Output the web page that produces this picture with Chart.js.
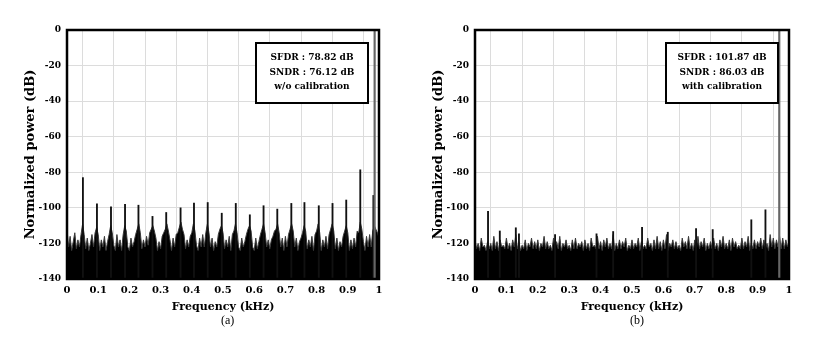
<!DOCTYPE html>
<html>
<head>
<meta charset="utf-8">
<script src="https://cdn.jsdelivr.net/npm/chart.js@4.4.1/dist/chart.umd.min.js"></script>
<style>
  body { margin: 0; background: #fff; width: 835px; height: 350px; position: relative; overflow: hidden; }
  canvas { position: absolute; top: 0; }
  .cap { position: absolute; top: 313px; font: 12px "Liberation Serif", serif; color: #000; }
</style>
</head>
<body>
<canvas id="specA" width="405" height="318" style="left:0"></canvas>
<canvas id="specB" width="427" height="318" style="left:408px"></canvas>
<div class="cap" style="left:221px">(a)</div>
<div class="cap" style="left:630px">(b)</div>
<script>
// noise floor tops, one value per 0.005 kHz bin (dB)
const noiseA = [
  -112,-122,-116,-124,-119,-114,-123,-118,-122,-115,
  -109,-115,-123,-117,-124,-120,-115,-122,-114,-111,
  -115,-124,-118,-122,-116,-124,-119,-115,-110,-114,
  -121,-124,-115,-122,-118,-124,-115,-110,-113,-122,
  -124,-117,-122,-119,-115,-112,-109,-114,-123,-118,
  -122,-116,-121,-114,-112,-110,-113,-117,-124,-119,
  -123,-116,-114,-112,-109,-113,-118,-124,-117,-122,
  -115,-114,-111,-108,-112,-115,-123,-118,-122,-116,
  -114,-109,-113,-121,-124,-117,-122,-115,-122,-114,
  -109,-114,-122,-117,-124,-119,-122,-115,-112,-110,
  -114,-123,-118,-122,-116,-124,-115,-113,-109,-114,
  -122,-124,-117,-122,-119,-115,-112,-110,-113,-122,
  -124,-117,-123,-119,-115,-112,-109,-114,-122,-118,
  -123,-118,-116,-113,-112,-109,-114,-122,-117,-124,
  -116,-122,-115,-112,-109,-113,-122,-117,-124,-119,
  -117,-114,-110,-113,-123,-118,-122,-116,-124,-115,
  -113,-109,-114,-124,-118,-122,-116,-123,-115,-112,
  -109,-113,-123,-117,-124,-119,-122,-116,-113,-110,
  -114,-124,-118,-123,-117,-122,-113,-114,-108,-112,
  -119,-124,-116,-122,-115,-122,-113,-110,-112,-114,
  -117
];
const noiseB = [
  -118,-123,-120,-124,-117,-122,-121,-124,-119,-123,
  -120,-124,-116,-123,-119,-124,-118,-122,-121,-123,
  -117,-123,-120,-124,-118,-122,-115,-123,-119,-124,
  -121,-123,-118,-124,-120,-122,-117,-123,-119,-123,
  -118,-124,-120,-122,-116,-123,-119,-123,-121,-124,
  -117,-123,-119,-123,-116,-124,-120,-122,-118,-123,
  -121,-124,-118,-123,-117,-123,-120,-122,-119,-124,
  -118,-123,-120,-124,-117,-122,-121,-123,-116,-123,
  -119,-124,-118,-122,-117,-123,-120,-123,-115,-124,
  -120,-123,-118,-123,-119,-122,-117,-124,-121,-123,
  -118,-123,-120,-122,-117,-124,-119,-123,-121,-123,
  -117,-122,-120,-124,-118,-123,-116,-123,-119,-124,
  -118,-123,-115,-124,-120,-122,-118,-123,-119,-123,
  -121,-124,-117,-122,-119,-123,-116,-123,-120,-124,
  -118,-123,-116,-123,-119,-122,-117,-124,-120,-123,
  -119,-123,-117,-123,-120,-124,-118,-122,-116,-123,
  -120,-123,-118,-124,-117,-122,-119,-123,-121,-123,
  -117,-123,-119,-122,-116,-124,-120,-123,-118,-123,
  -119,-122,-117,-123,-118,-123,-120,-124,-115,-122,
  -117,-123,-118,-122,-116,-123,-117,-123,-118,-122,
  -119
];

// spurs (kHz, peak dB)
const spurFreqA = [0.051, 0.096, 0.141, 0.186, 0.229, 0.274, 0.318, 0.364, 0.407, 0.451, 0.496,
                   0.541, 0.586, 0.630, 0.674, 0.719, 0.761, 0.807, 0.851, 0.895, 0.940, 0.982];
const spurPeakA = [-83, -97.7, -99.4, -98, -98.5, -104.8, -102.6, -100, -97.3, -97, -103,
                   -97.5, -103.9, -98.8, -100.7, -97.5, -97, -98.8, -97.5, -95.6, -78.6, -93];
const spurFreqB = [0.0415, 0.079, 0.130, 0.140, 0.255, 0.387, 0.440, 0.532, 0.614, 0.704, 0.757, 0.880, 0.925];
const spurPeakB = [-101.9, -113, -111.2, -114.6, -115, -114.6, -113.3, -110.9, -113.7, -111.6, -112.2, -106.7, -101.1];

// fundamental tone
const toneA = { freq: 0.986, level: 0 };
const toneB = { freq: 0.969, level: 0 };

const labelA = ['SFDR : 78.82 dB', 'SNDR : 76.12 dB', 'w/o calibration'];
const labelB = ['SFDR : 101.87 dB', 'SNDR : 86.03 dB', 'with calibration'];

const FONT = '"DejaVu Serif", serif';

const frame = {
    id: 'frame',
    afterDraw(chart, args, opts) {
        const c = chart.ctx, a = chart.chartArea;
        c.save();
        c.strokeStyle = '#000';
        c.lineWidth = 2.5;
        c.strokeRect(a.left, a.top, a.right - a.left, a.bottom - a.top);
        // annotation box
        const bx = a.right - 123, by = a.top + 13, bw = 112, bh = 60;
        c.fillStyle = '#fff';
        c.fillRect(bx, by, bw, bh);
        c.lineWidth = 2;
        c.strokeRect(bx, by, bw, bh);
        c.fillStyle = '#000';
        c.font = 'bold 9px ' + FONT;
        c.textAlign = 'center';
        c.textBaseline = 'middle';
        opts.lines.forEach((t, i) => c.fillText(t, bx + bw / 2, by + 15 + i * 14.5));
        c.restore();
    }
};

function makeChart(id, noise, spurF, spurP, tone, lines, rightPad) {
    const noisePts = noise.map((v, i) => ({ x: i / 200, y: v }));
    const spurPts = spurF.map((f, i) => ({ x: f, y: [-140, spurP[i]] }));
    return new Chart(document.getElementById(id), {
        type: 'line',
        data: {
            datasets: [{
                type: 'line',
                data: noisePts,
                borderColor: '#3a3a3a',
                borderWidth: 1,
                backgroundColor: '#000',
                fill: 'start',
                pointRadius: 0,
                tension: 0,
                order: 2
            }, {
                type: 'bar',
                data: spurPts,
                backgroundColor: '#111',
                barThickness: 1.2,
                grouped: false,
                order: 1
            }, {
                type: 'bar',
                data: [{ x: tone.freq, y: [-140, tone.level] }],
                backgroundColor: '#666',
                barThickness: 1.5,
                grouped: false,
                order: 0
            }]
        },
        options: {
            responsive: false,
            animation: false,
            devicePixelRatio: 1,
            layout: { padding: { top: 30, right: rightPad, left: 0, bottom: 0 } },
            plugins: { legend: { display: false }, tooltip: { enabled: false }, frame: { lines: lines } },
            scales: {
                x: {
                    type: 'linear',
                    min: 0, max: 1,
                    offset: false,
                    grid: { color: '#dcdcdc', drawTicks: false },
                    border: { display: false },
                    ticks: {
                        stepSize: 0.1, padding: 5, color: '#000', maxRotation: 0,
                        font: { family: FONT, weight: 'bold', size: 10 },
                        callback: v => String(+v.toFixed(1))
                    },
                    title: { display: true, text: 'Frequency (kHz)', color: '#000', font: { family: FONT, weight: 'bold', size: 11 }, padding: { bottom: 4 } },
                    afterFit(s) { s.height = 39; }
                },
                y: {
                    min: -140, max: 0,
                    grid: { color: '#dcdcdc', drawTicks: false },
                    border: { display: false },
                    ticks: { stepSize: 20, padding: 6, color: '#000', font: { family: FONT, weight: 'bold', size: 9 } },
                    title: { display: true, text: 'Normalized power (dB)', color: '#000', font: { family: FONT, weight: 'bold', size: 13 }, padding: { top: 23 } },
                    afterFit(s) { s.width = 67; }
                }
            }
        },
        plugins: [frame]
    });
}

makeChart('specA', noiseA, spurFreqA, spurPeakA, toneA, labelA, 26);
makeChart('specB', noiseB, spurFreqB, spurPeakB, toneB, labelB, 46);
</script>
</body>
</html>
